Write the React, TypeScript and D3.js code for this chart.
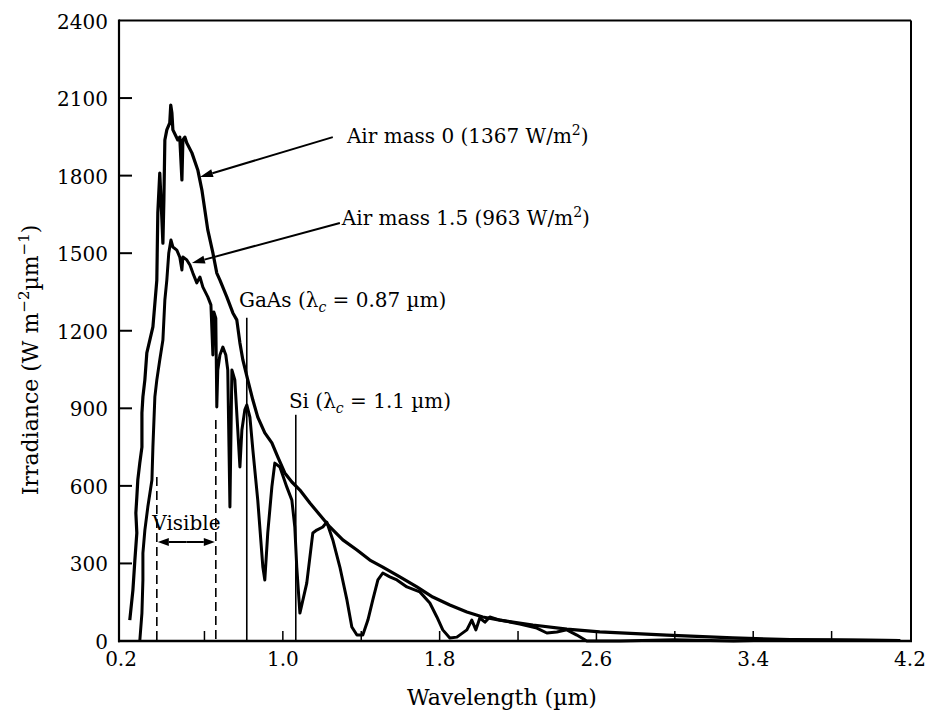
import React from 'react';
import * as d3 from 'd3';

// Air mass 0 spectrum (µm, W m^-2 µm^-1)
const am0Wavelength = [0.219, 0.235, 0.245, 0.255, 0.25, 0.255, 0.26, 0.27, 0.281, 0.281, 0.286, 0.296, 0.306, 0.337, 0.357, 0.362, 0.372, 0.383, 0.388, 0.393, 0.398, 0.408, 0.423, 0.428, 0.434, 0.439, 0.464, 0.474, 0.485, 0.49, 0.5, 0.51, 0.536, 0.566, 0.587, 0.602, 0.617, 0.643, 0.663, 0.679, 0.714, 0.745, 0.765, 0.781, 0.796, 0.821, 0.847, 0.872, 0.908, 0.944, 0.974, 1.01, 1.046, 1.087, 1.138, 1.189, 1.24, 1.306, 1.378, 1.444, 1.51, 1.597, 1.684, 1.765, 1.852, 1.939, 2.02, 2.107, 2.276, 2.449, 2.617, 2.959, 3.296, 3.638, 4.15];
const am0Irradiance = [81, 197, 313, 418, 495, 557, 623, 688, 750, 882, 944, 1010, 1114, 1215, 1396, 1656, 1810, 1628, 1539, 1706, 1938, 1977, 2004, 2073, 2042, 1977, 1938, 1949, 1783, 1938, 1949, 1926, 1888, 1822, 1744, 1667, 1590, 1501, 1423, 1396, 1331, 1269, 1242, 1153, 1087, 1010, 932, 866, 805, 766, 712, 650, 615, 584, 534, 487, 441, 391, 352, 313, 286, 248, 209, 170, 139, 112, 93, 81, 62, 46, 35, 23, 12, 4, 2];

// Air mass 1.5 spectrum
const am15Wavelength = [0.27, 0.281, 0.286, 0.286, 0.296, 0.311, 0.332, 0.337, 0.347, 0.357, 0.372, 0.388, 0.398, 0.408, 0.418, 0.429, 0.439, 0.459, 0.474, 0.485, 0.49, 0.51, 0.526, 0.541, 0.561, 0.577, 0.592, 0.617, 0.633, 0.643, 0.648, 0.658, 0.663, 0.668, 0.679, 0.694, 0.709, 0.719, 0.73, 0.74, 0.755, 0.77, 0.781, 0.791, 0.806, 0.816, 0.832, 0.847, 0.872, 0.898, 0.908, 0.923, 0.944, 0.959, 0.985, 1.02, 1.046, 1.061, 1.071, 1.087, 1.122, 1.153, 1.173, 1.204, 1.224, 1.255, 1.291, 1.327, 1.352, 1.378, 1.408, 1.434, 1.459, 1.485, 1.51, 1.546, 1.582, 1.633, 1.699, 1.75, 1.786, 1.816, 1.852, 1.888, 1.939, 1.964, 1.985, 2.005, 2.031, 2.056, 2.107, 2.209, 2.296, 2.347, 2.398, 2.449, 2.5, 2.551, 2.72, 3.0, 3.3, 3.6, 3.9, 4.15];
const am15Irradiance = [0, 108, 236, 340, 429, 518, 623, 750, 944, 1010, 1087, 1164, 1319, 1396, 1501, 1551, 1524, 1512, 1485, 1435, 1485, 1474, 1454, 1423, 1385, 1408, 1369, 1331, 1300, 1106, 1273, 1249, 905, 1048, 1106, 1137, 1106, 1048, 518, 1048, 1010, 816, 673, 816, 894, 913, 866, 739, 545, 286, 236, 418, 596, 688, 673, 596, 545, 441, 286, 108, 224, 418, 429, 441, 460, 391, 286, 159, 54, 23, 23, 81, 159, 236, 263, 248, 236, 209, 190, 147, 93, 43, 12, 15, 43, 81, 43, 89, 73, 93, 81, 66, 50, 31, 35, 43, 23, 0, 0, 5, 0, 6, 4, 2];

const yTicks = [0, 300, 600, 900, 1200, 1500, 1800, 2100, 2400];
const xTickLabels = [0.2, 1.0, 1.8, 2.6, 3.4, 4.2];
const xMinorTicks = [0.6, 1.0, 1.4, 1.8, 2.2, 2.6, 3.0, 3.4, 3.8];

const FONT = "'DejaVu Serif', 'Liberation Serif', serif";

function Arrow({ x1, y1, x2, y2, head = 13, half = 4, sw = 2 }: any) {
  const a = Math.atan2(y2 - y1, x2 - x1);
  const bx = x2 - head * Math.cos(a);
  const by = y2 - head * Math.sin(a);
  const px = -Math.sin(a) * half;
  const py = Math.cos(a) * half;
  return (
    <g>
      <line x1={x1} y1={y1} x2={bx} y2={by} stroke="#000" strokeWidth={sw} />
      <polygon points={`${x2},${y2} ${bx + px},${by + py} ${bx - px},${by - py}`} fill="#000" />
    </g>
  );
}

export default function App() {
  const W = 929, H = 713;
  const x = d3.scaleLinear().domain([0.164, 4.2]).range([119, 910]);
  const y = d3.scaleLinear().domain([0, 2400]).range([641, 20.5]);
  const line = d3.line<[number, number]>().x(d => x(d[0])).y(d => y(d[1]));
  const am0: [number, number][] = am0Wavelength.map((w, i) => [w, am0Irradiance[i]]);
  const am15: [number, number][] = am15Wavelength.map((w, i) => [w, am15Irradiance[i]]);

  const x0 = x(0.164), x1 = x(4.2), y0 = y(0), y1 = y(2400);

  const cutoffs = [
    { w: 0.816, top: 1250, lx: 0.776, ly: 1292, name: 'GaAs', val: '0.87' },
    { w: 1.066, top: 875, lx: 1.031, ly: 901, name: 'Si', val: '1.1' },
  ];

  return (
    <svg width={W} height={H} style={{ position: 'absolute', left: 0, top: 0, background: '#fff' }}
      fontFamily={FONT}>
      <rect x={0} y={0} width={W} height={H} fill="#fff" />
      {/* frame */}
      <line x1={x0} y1={y1} x2={x1 + 1} y2={y1} stroke="#000" strokeWidth={2} />
      <line x1={x1 + 1} y1={y1} x2={x1 + 1} y2={y0} stroke="#000" strokeWidth={2} />
      <line x1={x0} y1={y1 - 1} x2={x0} y2={y0 + 1.2} stroke="#000" strokeWidth={2.2} />
      <line x1={x0 - 1} y1={y0} x2={x1 + 2} y2={y0} stroke="#000" strokeWidth={2.6} />

      {/* y ticks */}
      {yTicks.map(t => (
        <g key={'y' + t}>
          {t > 0 && t < 2400 && <line x1={x0} x2={x0 + 13} y1={y(t)} y2={y(t)} stroke="#000" strokeWidth={2} />}
          <text x={108} y={y(t) + 8} fontSize={20} textAnchor="end">{t}</text>
        </g>
      ))}
      {/* x ticks */}
      {xMinorTicks.map(t => (
        <line key={'xm' + t} x1={x(t)} x2={x(t)} y1={y0} y2={y0 - 10} stroke="#000" strokeWidth={1.5} />
      ))}
      {xTickLabels.map(t => (
        <text key={'xl' + t} x={x(t) - (t === 0.2 ? 5 : 0)} y={666} fontSize={20} textAnchor="middle">{t.toFixed(1)}</text>
      ))}

      {/* axis titles */}
      <text x={502} y={705} fontSize={22} textAnchor="middle">Wavelength (µm)</text>
      <text transform="translate(38,360) rotate(-90)" fontSize={22} textAnchor="middle">
        Irradiance (W m<tspan fontSize={15} dy={-9}>−2</tspan><tspan dy={9}>µm</tspan><tspan fontSize={15} dy={-9}>−1</tspan><tspan dy={9}>)</tspan>
      </text>

      {/* visible band */}
      <line x1={x(0.357)} x2={x(0.357)} y1={y(634)} y2={y0} stroke="#000" strokeWidth={1.6} strokeDasharray="9,5" />
      <line x1={x(0.658)} x2={x(0.658)} y1={y(855)} y2={y0} stroke="#000" strokeWidth={1.6} strokeDasharray="9,5" />
      <Arrow x1={(x(0.357) + x(0.658)) / 2} y1={y(383)} x2={x(0.357) + 1} y2={y(383)} head={11} half={4} sw={2} />
      <Arrow x1={(x(0.357) + x(0.658)) / 2} y1={y(383)} x2={x(0.658) - 1} y2={y(383)} head={11} half={4} sw={2} />
      <text x={x(0.508)} y={y(429)} fontSize={20} textAnchor="middle">Visible</text>

      {/* cutoff lines */}
      {cutoffs.map(c => (
        <g key={c.name}>
          <line x1={x(c.w)} x2={x(c.w)} y1={y(c.top)} y2={y0} stroke="#000" strokeWidth={1.6} />
          <text x={x(c.lx)} y={y(c.ly)} fontSize={20}>
            {c.name} (λ<tspan fontStyle="italic" fontSize={14} dy={5}>c</tspan><tspan dy={-5}> = {c.val} µm)</tspan>
          </text>
        </g>
      ))}

      {/* curves */}
      <path d={line(am15) || ''} fill="none" stroke="#000" strokeWidth={3} strokeLinejoin="round" />
      <path d={line(am0) || ''} fill="none" stroke="#000" strokeWidth={3.2} strokeLinejoin="round" />

      {/* labels with arrows */}
      <Arrow x1={x(1.255)} y1={y(1949)} x2={x(0.577)} y2={y(1795)} />
      <Arrow x1={x(1.291)} y1={y(1617)} x2={x(0.536)} y2={y(1462)} />
      <text x={x(1.327)} y={y(1926)} fontSize={20}>
        Air mass 0 (1367 W/m<tspan fontSize={14} dy={-8}>2</tspan><tspan dy={8}>)</tspan>
      </text>
      <text x={x(1.301)} y={y(1609)} fontSize={20}>
        Air mass 1.5 (963 W/m<tspan fontSize={14} dy={-8}>2</tspan><tspan dy={8}>)</tspan>
      </text>
    </svg>
  );
}
